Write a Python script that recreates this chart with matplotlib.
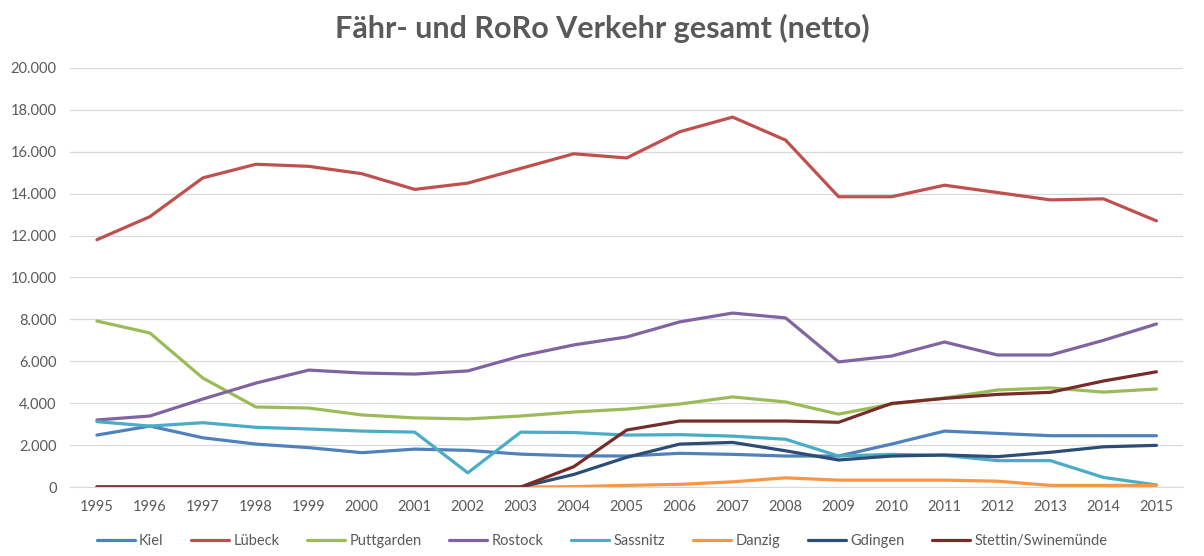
import numpy as np
import matplotlib
matplotlib.use("Agg")
import matplotlib.pyplot as plt
from matplotlib.ticker import FuncFormatter

plt.rcParams['font.family'] = ['Lato', 'DejaVu Sans']

years = list(range(1995, 2016))

# Werte in Tsd.
kiel = [2.48, 2.91, 2.35, 2.05, 1.88, 1.64, 1.81, 1.75, 1.57, 1.49, 1.48,
        1.61, 1.56, 1.48, 1.48, 2.05, 2.67, 2.56, 2.45, 2.45, 2.45]
luebeck = [11.8, 12.9, 14.75, 15.4, 15.3, 14.95, 14.2, 14.5, 15.2, 15.9, 15.7,
           16.95, 17.65, 16.55, 13.85, 13.85, 14.4, 14.05, 13.7, 13.75, 12.7]
puttgarden = [7.92, 7.35, 5.2, 3.82, 3.77, 3.44, 3.3, 3.25, 3.39, 3.58, 3.72,
              3.96, 4.3, 4.06, 3.48, 3.96, 4.25, 4.63, 4.73, 4.53, 4.68]
rostock = [3.2, 3.39, 4.2, 4.96, 5.58, 5.44, 5.39, 5.54, 6.25, 6.78, 7.16,
           7.88, 8.3, 8.07, 5.97, 6.25, 6.92, 6.3, 6.3, 7.0, 7.78]
sassnitz = [3.12, 2.91, 3.07, 2.85, 2.77, 2.67, 2.62, 0.68, 2.62, 2.6, 2.48,
            2.5, 2.43, 2.28, 1.48, 1.56, 1.51, 1.26, 1.26, 0.46, 0.1]
danzig = [0, 0, 0, 0, 0, 0, 0, 0, 0, 0.02, 0.08,
          0.13, 0.25, 0.44, 0.33, 0.33, 0.33, 0.28, 0.08, 0.08, 0.08]
gdingen = [0, 0, 0, 0, 0, 0, 0, 0, 0, 0.6, 1.42,
           2.05, 2.13, 1.73, 1.29, 1.48, 1.53, 1.45, 1.66, 1.92, 1.99]
stettin = [0, 0, 0, 0, 0, 0, 0, 0, 0, 0.97, 2.72,
           3.15, 3.15, 3.15, 3.09, 3.99, 4.23, 4.42, 4.52, 5.06, 5.5]

names = ['Kiel', 'Lübeck', 'Puttgarden', 'Rostock', 'Sassnitz', 'Danzig',
         'Gdingen', 'Stettin/Swinemünde']
series = [kiel, luebeck, puttgarden, rostock, sassnitz, danzig, gdingen, stettin]
colors = ['#4F81BD', '#C0504D', '#9BBB59', '#8064A2', '#4BACC6', '#F79646',
          '#2C4D75', '#772C2A']

fig = plt.figure(figsize=(12.04, 5.56), dpi=100)
ax = fig.add_axes([0.0585, 0.124, 0.924, 0.754])

x = np.arange(len(years))
for vals, name, col in zip(series, names, colors):
    ax.plot(x, np.array(vals) * 1000, color=col, lw=2.3, label=name,
            solid_capstyle='round', solid_joinstyle='round')

ax.set_xlim(-0.5, len(years) - 0.5)
ax.set_ylim(0, 20000)
ax.set_yticks(range(0, 20001, 2000))
ax.yaxis.set_major_formatter(FuncFormatter(lambda v, p: f"{int(v):,}".replace(",", ".")))
ax.set_xticks(x)
ax.set_xticklabels([str(y) for y in years])
ax.grid(axis='y', color='#D9D9D9', lw=0.9)
ax.set_axisbelow(True)
for s in ['top', 'right', 'left']:
    ax.spines[s].set_visible(False)
ax.spines['bottom'].set_color('#D9D9D9')
ax.tick_params(axis='both', length=0, colors='#595959', labelsize=10.5)
ax.tick_params(axis='y', pad=10)
ax.tick_params(axis='x', pad=9)

fig.suptitle("Fähr- und RoRo Verkehr gesamt (netto)", x=0.5, y=0.975,
             fontsize=22, fontweight='bold', color='#595959')

fig.legend(loc='lower center', bbox_to_anchor=(0.5, -0.01), ncol=8,
           frameon=False, fontsize=10.5, labelcolor='#595959',
           handlelength=2.6, handletextpad=0.3, columnspacing=1.9)

fig.savefig("out.png", dpi=100)
